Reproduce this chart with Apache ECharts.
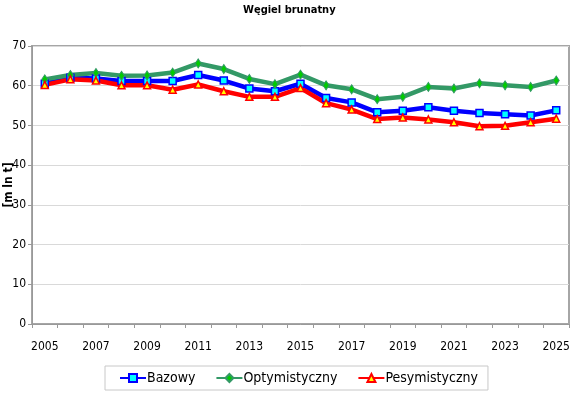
<!DOCTYPE html>
<html>
<head>
<meta charset="utf-8">
<script src="https://cdn.jsdelivr.net/npm/echarts@6/dist/echarts.min.js"></script>
<style>
html,body{margin:0;padding:0;background:#fff;}
#chart{width:570px;height:393px;}
</style>
</head>
<body>
<div id="chart"></div>
<script>
const years = ['2005','2006','2007','2008','2009','2010','2011','2012','2013','2014','2015','2016','2017','2018','2019','2020','2021','2022','2023','2024','2025'];
const bazowy = [60.5,62.0,61.8,61.2,61.2,61.2,62.7,61.3,59.3,58.6,60.5,56.9,55.8,53.3,53.7,54.6,53.7,53.1,52.8,52.5,53.8];
const optymistyczny = [61.6,62.7,63.2,62.5,62.6,63.3,65.6,64.2,61.7,60.4,62.8,60.1,59.1,56.6,57.2,59.7,59.3,60.6,60.1,59.7,61.3];
const pesymistyczny = [60.2,61.6,61.3,60.1,60.1,59.0,60.3,58.6,57.2,57.2,59.4,55.6,54.0,51.6,52.0,51.5,50.8,49.8,49.9,50.8,51.7];
const titleText = 'Węgiel brunatny';
const yName = '[m ln t]';

const FONT = "'Liberation Sans Narrow','Arial Narrow','DejaVu Sans Condensed',sans-serif";
const chart = echarts.init(document.getElementById('chart'), null, {renderer:'canvas'});
chart.setOption({
  animation: false,
  title: {
    text: titleText, left: 238, top: 0,
    textStyle: {fontFamily: FONT, fontSize: 11, fontWeight: 'bold', color: '#000'}
  },
  grid: {left: 32, right: 1, top: 46, height: 278, show: true, borderColor: '#a6a6a6', borderWidth: 2, containLabel: false, outerBoundsMode: 'none'},
  legend: {
    left: 105, top: 366,
    itemWidth: 26, itemHeight: 10, itemGap: 20,
    padding: [5, 10, 5, 14],
    borderColor: '#c8c8c8', borderWidth: 1,
    textStyle: {fontFamily: FONT, fontSize: 14, color: '#000', padding: [0,0,0,-4]},
    data: ['Bazowy','Optymistyczny','Pesymistyczny']
  },
  xAxis: {
    type: 'category', data: years, boundaryGap: true,
    axisLine: {lineStyle: {color: '#999', width: 1}},
    axisTick: {show: true, interval: 0, length: 4, lineStyle: {color: '#999'}},
    axisLabel: {interval: 1, margin: 17, fontFamily: FONT, fontSize: 12, color: '#000'}
  },
  yAxis: {
    type: 'value', min: 0, max: 70, interval: 10,
    name: yName, nameLocation: 'middle', nameGap: 17, nameMoveOverlap: false,
    nameTextStyle: {fontFamily: FONT, fontSize: 12, fontWeight: 'bold', color: '#000'},
    axisLine: {show: true, lineStyle: {color: '#999', width: 1}},
    axisTick: {show: true, length: 4, lineStyle: {color: '#999'}},
    axisLabel: {margin: 6, fontFamily: FONT, fontSize: 12, color: '#000'},
    splitLine: {lineStyle: {color: '#d9d9d9', width: 1}}
  },
  series: [
    {
      name: 'Bazowy', type: 'line', data: bazowy,
      lineStyle: {color: '#0000ff', width: 4.5},
      symbol: 'rect', symbolSize: 7,
      itemStyle: {color: '#00ffff', borderColor: '#0000ff', borderWidth: 1.5}
    },
    {
      name: 'Optymistyczny', type: 'line', data: optymistyczny,
      lineStyle: {color: '#339966', width: 4.5},
      symbol: 'diamond', symbolSize: [6, 9],
      itemStyle: {color: '#00cc00', borderColor: '#339966', borderWidth: 1}
    },
    {
      name: 'Pesymistyczny', type: 'line', data: pesymistyczny,
      lineStyle: {color: '#ff0000', width: 4.5},
      symbol: 'triangle', symbolSize: 7,
      itemStyle: {color: '#ffff00', borderColor: '#ff0000', borderWidth: 1.5}
    }
  ]
});
</script>
</body>
</html>
